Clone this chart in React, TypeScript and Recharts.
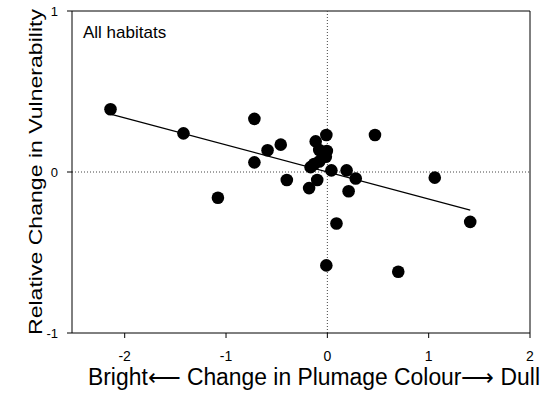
import React from 'react'
import { ScatterChart, Scatter, XAxis, YAxis, ReferenceLine, Label } from 'recharts'

// plumage change (x) vs relative change in vulnerability (y)
const plumageChange = [
  -2.14, -1.42, -0.72, -0.72, -0.59, -0.46, -1.08, -0.4, -0.18, -0.1,
  -0.115, -0.01, -0.08, -0.005, -0.015, -0.13, -0.08, -0.165, 0.04, 0.19,
  0.28, 0.21, 0.47, 1.06, 1.41, 0.09, -0.01, 0.7,
]
const vulnerabilityChange = [
  0.39, 0.24, 0.33, 0.06, 0.135, 0.17, -0.16, -0.05, -0.1, -0.05,
  0.19, 0.23, 0.137, 0.13, 0.095, 0.05, 0.065, 0.03, 0.01, 0.01,
  -0.04, -0.12, 0.23, -0.035, -0.31, -0.32, -0.58, -0.62,
]
const xTicks = [-2, -1, 0, 1, 2]
const yTicks = [-1, 0, 1]
const fitSlope = -0.168
const fitIntercept = 0.0
const fitRange = [-2.14, 1.41]

const points = plumageChange.map((x, i) => ({ x, y: vulnerabilityChange[i] }))
const fitSegment = fitRange.map((x) => ({ x, y: fitIntercept + fitSlope * x }))

const font = 'Arial, "Liberation Sans", sans-serif'

// axis titles are stretched a bit in the scan, so fit them to a length
const XTitle = (props: any) => {
  const vb = props.viewBox || {}
  return (
    <text
      x={vb.x + vb.width / 2 + 13}
      y={vb.y + 52}
      textAnchor="middle"
      fontSize={23}
      fontFamily={font}
      fill="#000"
      textLength={452}
      lengthAdjust="spacingAndGlyphs"
    >
      {'Bright\u27F5 Change in Plumage Colour\u27F6 Dull'}
    </text>
  )
}

const YTitle = (props: any) => {
  const vb = props.viewBox || {}
  const cy = vb.y + vb.height / 2
  return (
    <text
      x={42}
      y={cy}
      transform={`rotate(-90 42 ${cy})`}
      textAnchor="middle"
      fontSize={19}
      fontFamily={font}
      fill="#000"
      textLength={326}
      lengthAdjust="spacingAndGlyphs"
    >
      Relative Change in Vulnerability
    </text>
  )
}

const App: React.FC = () => (
  <div style={{ position: 'relative', width: 544, height: 400, fontFamily: font }}>
    <style>{'body { margin: 0; }'}</style>
    <ScatterChart width={544} height={400} margin={{ top: 11, right: 14, left: 0, bottom: 37 }}>
      <XAxis
        type="number"
        dataKey="x"
        domain={[-2.52, 2]}
        ticks={xTicks}
        allowDataOverflow
        stroke="#000"
        tickSize={5}
        tick={{ fill: '#000', fontSize: 14, fontFamily: font }}
        tickMargin={13}
      >
        <Label content={<XTitle />} />
      </XAxis>
      <YAxis
        type="number"
        dataKey="y"
        domain={[-1, 1]}
        ticks={yTicks}
        width={72}
        stroke="#000"
        tickSize={5}
        tick={{ fill: '#000', fontSize: 13, fontFamily: font }}
        tickMargin={9}
      >
        <Label content={<YTitle />} />
      </YAxis>
      <ReferenceLine y={1} stroke="#000" />
      <ReferenceLine x={2} stroke="#000" />
      <ReferenceLine x={0} stroke="#444" strokeDasharray="1 2" />
      <ReferenceLine y={0} stroke="#444" strokeDasharray="1 2" />
      <ReferenceLine segment={fitSegment} stroke="#000" strokeWidth={1.2} />
      <Scatter data={points} fill="#000" isAnimationActive={false} shape={(p: any) => <circle cx={p.cx} cy={p.cy} r={6.3} fill="#000" />} />
    </ScatterChart>
    <div style={{ position: 'absolute', left: 83, top: 23, fontSize: 17, color: '#000' }}>All habitats</div>
  </div>
)

export default App
